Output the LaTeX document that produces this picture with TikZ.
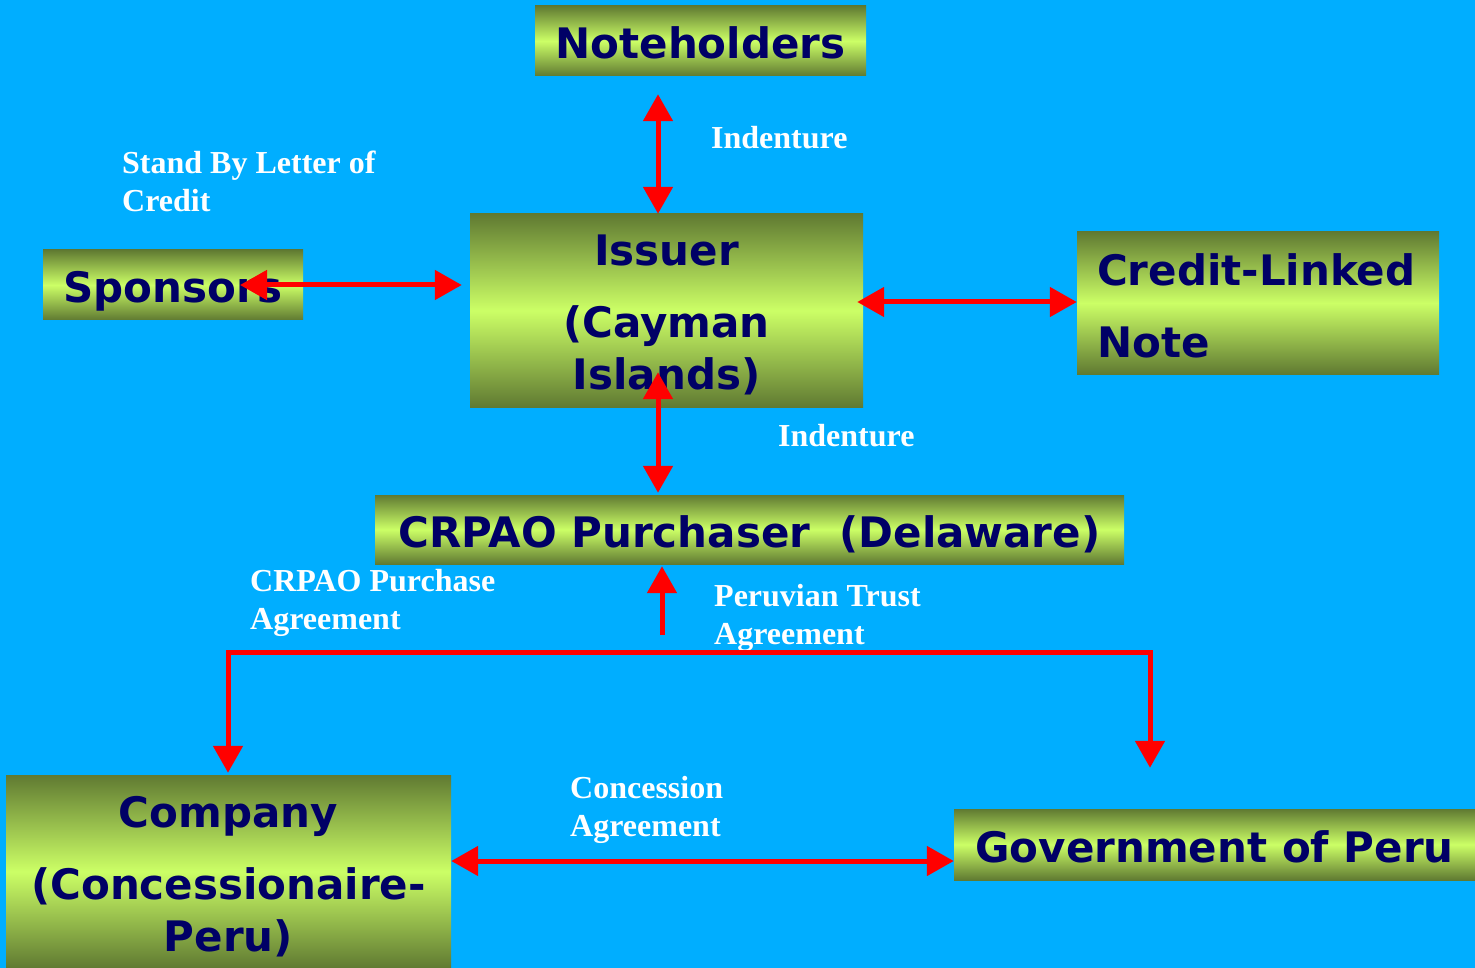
\documentclass[tikz,border=0pt]{standalone}
\usepackage{fontspec}
\setmainfont{Liberation Serif}
\newfontfamily\boxfont{DejaVu Sans}
\usetikzlibrary{arrows.meta,calc}
\definecolor{bgblue}{RGB}{0,174,255}
\definecolor{olivedk}{RGB}{96,122,50}
\definecolor{limelt}{RGB}{204,255,102}
\definecolor{navytxt}{RGB}{0,0,102}
\definecolor{arrred}{RGB}{255,0,0}
\tikzset{
  box/.style={shading=axis, top color=olivedk, bottom color=olivedk, middle color=limelt,
    inner sep=0pt, text=navytxt, align=center,
    font=\boxfont\bfseries\fontsize{42}{52}\selectfont},
  onebox/.style={box, text height=35pt, text depth=0pt},
  lbl/.style={text=white, inner sep=0pt, anchor=base west, align=left,
    font=\bfseries\fontsize{32}{38}\selectfont},
  arr/.style={draw=arrred, line width=5pt, line join=miter,
    -{Triangle[width=29pt,length=27pt]}},
  dbl/.style={draw=arrred, line width=5pt,
    {Triangle[width=29pt,length=27pt]}-{Triangle[width=29pt,length=27pt]}},
}
\begin{document}
\begin{tikzpicture}[x=1pt,y=-1pt]
\fill[bgblue] (0,0) rectangle (1475,968);
\useasboundingbox (0,0) rectangle (1475,968);

\node[onebox, minimum width=331pt, minimum height=70pt] (note) at (700.5,41) {Noteholders};
\node[onebox, minimum width=260pt, minimum height=70pt] (spon) at (173,285) {Sponsors};
\node[box, minimum width=393pt, minimum height=193pt] (iss) at (666.5,310.5) {\rule{0pt}{39pt}Issuer\\[20pt](Cayman\\Islands)};
\node[box, minimum height=142pt, text width=322pt, inner xsep=20pt, align=left, font=\boxfont\bfseries\fontsize{42}{72}\selectfont] (cln) at (1258,303) {\rule{0pt}{37pt}Credit-Linked\\Note};
\node[onebox, minimum width=749pt, minimum height=69pt] (crp) at (749.5,529.5) {CRPAO Purchaser\ \ (Delaware)};
\node[box, minimum width=445pt, minimum height=193pt] (comp) at (228.5,871.5) {\rule{0pt}{41pt}Company\\[20pt](Concessionaire-\\Peru)};
\node[onebox, minimum width=521pt, minimum height=71pt] (gov) at (1214.5,844.5) {Government of Peru};

\node[lbl] (l1) at (122,212) {Stand By Letter of\\Credit};
\node[lbl] (l2) at (711,149) {Indenture};
\node[lbl] (l3) at (778,446) {Indenture};
\node[lbl] (l4) at (250,629) {CRPAO Purchase\\Agreement};
\node[lbl] (l5) at (714,644) {Peruvian Trust\\Agreement};
\node[lbl] (l6) at (570,836) {Concession\\Agreement};

\coordinate (pt) at (662,635);
\coordinate (jm) at (662,652);

\draw[dbl] ($(note.south)+(-42.5,18)$) -- ($(iss.north)+(-8.5,0)$);
\draw[dbl] ($(spon.center)+(67,0)$) -- ($(iss.west)+(-8,-25.5)$);
\draw[dbl] ($(iss.east)+(-6,-8.5)$) -- ($(cln.west)+(0,-1)$);
\draw[dbl] ($(iss.south)+(-8.5,-35)$) -- ($(crp.north)+(-91.5,-2)$);
\draw[arr] (pt) -- ($(crp.south)+(-87.5,2)$);
\draw[arr] (jm) -| ($(comp.north)+(-0.5,-2)$);
\draw[arr] (jm) -| ($(gov.north)+(-64.5,-41)$);
\draw[dbl] ($(comp.east)+(0,-10.5)$) -- ($(gov.west)+(0,16.5)$);
\end{tikzpicture}
\end{document}
